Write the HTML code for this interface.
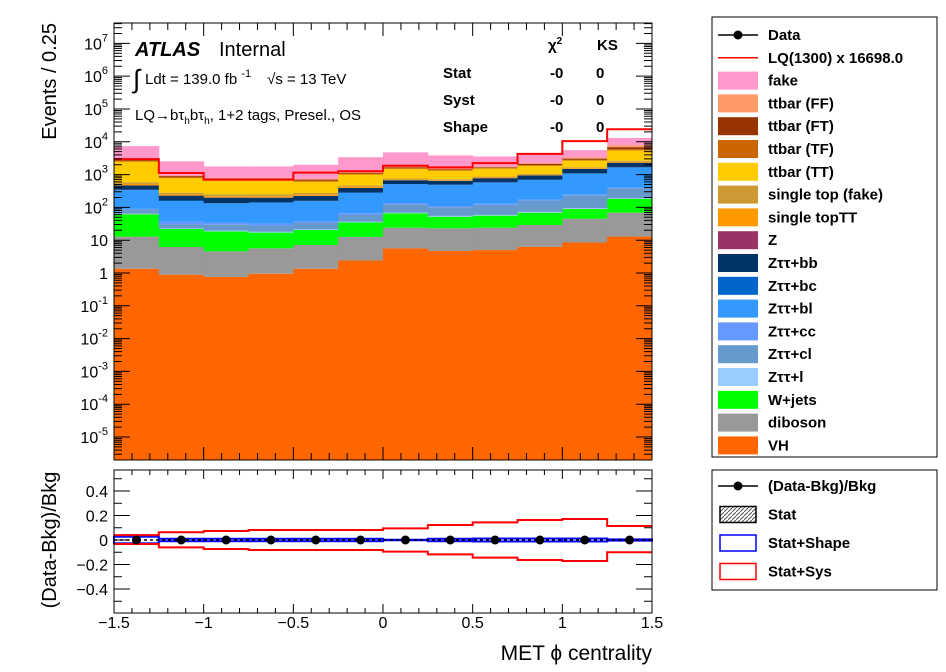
<!DOCTYPE html>
<html><head><meta charset="utf-8"><style>
body{margin:0;background:#fff;}
svg{display:block;font-family:"Liberation Sans",sans-serif;}
.lg{font-size:15px;font-weight:bold;}
</style></head><body>
<svg id="c" width="946" height="672"></svg>
<script>
const series = ["VH","diboson","W+jets","Zττ+l","Zττ+cl","Zττ+cc","Zττ+bl","Zττ+bc","Zττ+bb","Z","single topTT","single top (fake)","ttbar (TT)","ttbar (TF)","ttbar (FT)","ttbar (FF)","fake"];
const colors = ["#ff6600","#999999","#00ff00","#99ccff","#6699cc","#6699ff","#3399ff","#0066cc","#003366","#993366","#ff9900","#cc9933","#ffcc00","#cc6600","#993300","#ff9966","#ff99cc"];
const vVH = [1.35,0.89,0.76,0.95,1.35,2.4,5.6,4.7,5.0,6.3,8.5,12.9];
const vDib = [11.5,5.3,3.8,4.7,5.8,10.2,18.4,18.3,19,22.7,36.5,56];
const vW = [49,15.7,14,11.4,13.3,22,42,29,32,40,44,113];
const vZl = [2,1,1,1,1,2,3,3,3,4,5,7];
const vZcl = [22,8,10,9,12,22,55,45,60,90,140,190];
const vZcc = [4,6,5,5,5,8,12,10,10,12,15,20];
const vZbl = [245,120,95,105,115,210,370,375,440,510,820,1250];
const vZbc = [10,5,5,5,5,8,10,10,10,10,15,20];
const vZbb = [120,66,63,55,65,105,155,150,195,250,410,620];
const vZ = [2,1,1,1,1,2,3,3,3,4,5,7];
const vStTT = [50,20,20,20,20,30,40,30,40,50,80,150];
const vStF = [60,30,30,30,30,40,50,40,50,60,90,200];
const vTT = [1900,500,445,445,330,540,720,600,650,800,1000,2800];
const vTF = [200,60,40,40,50,60,80,60,60,100,150,500];
const vFT = [300,60,40,40,50,70,100,80,80,150,250,900];
const vFF = [200,40,30,30,40,60,100,80,90,150,300,1000];
const vFake = [4200,1600,970,970,1250,2200,3000,2300,1800,2200,2200,5200];
const vLQ = [2950,1120,700,700,1150,1260,1860,1660,2240,4260,10500,24000];
const ratioData = [0,0,0,0,0,0,0,0,0,0,0,0];
const sysUp = [0.04,0.063,0.073,0.082,0.082,0.082,0.095,0.122,0.144,0.163,0.171,0.114];
const sysDn = [-0.033,-0.06,-0.073,-0.082,-0.082,-0.082,-0.095,-0.117,-0.144,-0.163,-0.171,-0.1];
const shapeErr = [0.027,0.01,0.01,0.01,0.01,0.01,0.002,0.01,0.012,0.012,0.012,0.005];
const xTicks = [-1.5,-1,-0.5,0,0.5,1,1.5];
const xTickLabels = ["−1.5","−1","−0.5","0","0.5","1","1.5"];
const rTicks = [0.4,0.2,0,-0.2,-0.4];
const rTickLabels = ["0.4","0.2","0","−0.2","−0.4"];

const S=document.getElementById('c');const NS="http://www.w3.org/2000/svg";
function el(t,a,p){const e=document.createElementNS(NS,t);for(const k in a)e.setAttribute(k,a[k]);(p||S).appendChild(e);return e;}
function txt(x,y,s,a){const e=el('text',Object.assign({x:x,y:y},a||{}));e.innerHTML=s;return e;}
const X0=114,X1=652,Y0=23,Y1=460,R0=470,R1=613;
const xmin=-1.5,xmax=1.5,lmin=-5.7,lmax=7.62;
const xs=v=>X0+(v-xmin)/(xmax-xmin)*(X1-X0);
const ys=v=>Y1-(Math.log10(v)-lmin)/(lmax-lmin)*(Y1-Y0);
const rs=v=>540-v*122.5;
const nb=12,bw=(xmax-xmin)/nb;
const all=[vVH,vDib,vW,vZl,vZcl,vZcc,vZbl,vZbc,vZbb,vZ,vStTT,vStF,vTT,vTF,vFT,vFF,vFake];

const g=el('g',{});

for(let b=0;b<nb;b++){
  let cum=0;
  const xa=xs(xmin+b*bw),xb=xs(xmin+(b+1)*bw);
  for(let s=0;s<all.length;s++){
    const lo=cum;cum+=all[s][b];
    const yt=ys(cum),yb=lo>0?Math.min(Y1,ys(lo)):Y1;
    const r=el('rect',{x:xa,y:yt,width:xb-xa+0.5,height:Math.max(0,yb-yt),fill:colors[s]},g);
    
    
  }
}
let d='';
for(let b=0;b<nb;b++){const xa=xs(xmin+b*bw),xb=xs(xmin+(b+1)*bw),y=ys(vLQ[b]);d+=(b?'L':'M')+xa+','+y+'L'+xb+','+y;}
const lq=el('path',{d:d,fill:'none',stroke:'#ff0000','stroke-width':2});


const fr=el('rect',{x:X0,y:Y0,width:X1-X0,height:Y1-Y0,fill:'none',stroke:'#000'});

let tk='';
for(let e=-5;e<=7;e++){const y=ys(Math.pow(10,e));tk+=`M${X0},${y}h16M${X1},${y}h-16`;
  const l=txt(X0-6,y+6,'10<tspan dy="-8" font-size="11">'+e+'</tspan>',{'font-size':16,'text-anchor':'end'});
  if(e===0){l.innerHTML='1';}else if(e===1){l.innerHTML='10';}
  }
for(let e=-6;e<=7;e++)for(let m=2;m<10;m++){const v=m*Math.pow(10,e);const y=ys(v);if(y<Y0||y>Y1)continue;tk+=`M${X0},${y}h8M${X1},${y}h-8`;}
for(let v=-1.5;v<=1.5001;v+=0.1){const x=xs(v);const big=Math.abs(v*2-Math.round(v*2))<1e-6;const L=big?13:7;
  tk+=`M${x},${Y1}v-${L}M${x},${Y0}v${L}M${x},${R1}v-${big?9:5}M${x},${R0}v${big?9:5}`;}
for(let v=-0.6;v<=0.6001;v+=0.1){const y=rs(v);if(y<R0||y>R1)continue;const big=Math.abs(v*5-Math.round(v*5))<1e-6;tk+=`M${X0},${y}h${big?16:8}M${X1},${y}h-${big?16:8}`;}
const tp=el('path',{d:tk,stroke:'#000',fill:'none','stroke-width':1});


const rg=el('g',{});
let dU='',dD='';
for(let b=0;b<nb;b++){const xa=xs(xmin+b*bw),xb=xs(xmin+(b+1)*bw);
  dU+=(b?'L':'M')+xa+','+rs(sysUp[b])+'L'+xb+','+rs(sysUp[b]);
  dD+=(b?'L':'M')+xa+','+rs(sysDn[b])+'L'+xb+','+rs(sysDn[b]);
  const r=el('rect',{x:xa,y:rs(shapeErr[b]),width:xb-xa,height:rs(-shapeErr[b])-rs(shapeErr[b]),fill:'none',stroke:'#0000ff','stroke-width':2},rg);
  }
const su=el('path',{d:dU,fill:'none',stroke:'#ff0000','stroke-width':2},rg);
const sd=el('path',{d:dD,fill:'none',stroke:'#ff0000','stroke-width':2},rg);
const zl=el('line',{x1:X0,x2:X1,y1:rs(0),y2:rs(0),stroke:'#000','stroke-dasharray':'3,3','stroke-width':1.5},rg);
for(let b=0;b<nb;b++){const c=el('circle',{cx:xs(xmin+(b+0.5)*bw),cy:rs(ratioData[b]),r:4.5,fill:'#000'},rg);
  }
const rf=el('rect',{x:X0,y:R0,width:X1-X0,height:R1-R0,fill:'none',stroke:'#000'});

xTicks.forEach((v,i)=>{const t=txt(xs(v),628,xTickLabels[i],{'font-size':16,'text-anchor':'middle'});});
rTicks.forEach((v,i)=>{const t=txt(X0-6,rs(v)+6,rTickLabels[i],{'font-size':16,'text-anchor':'end'});});

let t=txt(652,660,'MET ϕ centrality',{'font-size':21,'text-anchor':'end'});
t=txt(0,0,'Events / 0.25',{'font-size':20,'text-anchor':'end',transform:'translate(56,23) rotate(-90)'});
t=txt(0,0,'(Data-Bkg)/Bkg',{'font-size':20,'text-anchor':'middle',transform:'translate(56,540) rotate(-90)'});
t=txt(135,56,'ATLAS',{'font-size':20,'font-weight':'bold','font-style':'italic'});
t=txt(219,56,'Internal',{'font-size':20});
t=txt(133,88,'∫',{'font-size':26});
t=txt(145,84,'Ldt = 139.0 fb <tspan dy="-7" font-size="11">-1</tspan><tspan dy="7" dx="16">√s = 13 TeV</tspan>',{'font-size':15});
t=txt(135,120,'LQ→bτ<tspan dy="4" font-size="10">h</tspan><tspan dy="-4">bτ</tspan><tspan dy="4" font-size="10">h</tspan><tspan dy="-4">, 1+2 tags, Presel., OS</tspan>',{'font-size':15});
const st=[['χ<tspan dy="-6" font-size="10">2</tspan>',548,50],['KS',597,50],['Stat',443,78],['-0',550,78],['0',596,78],['Syst',443,105],['-0',550,105],['0',596,105],['Shape',443,132],['-0',550,132],['0',596,132]];
st.forEach(s=>{const e=txt(s[1],s[2],s[0],{'font-size':15,'font-weight':'bold'});});

const lb=el('rect',{x:712,y:17,width:225,height:440,fill:'#fff',stroke:'#000'});
const legNames=["Data","LQ(1300) x 16698.0","fake","ttbar (FF)","ttbar (FT)","ttbar (TF)","ttbar (TT)","single top (fake)","single topTT","Z","Zττ+bb","Zττ+bc","Zττ+bl","Zττ+cc","Zττ+cl","Zττ+l","W+jets","diboson","VH"];
legNames.forEach((n,i)=>{const y=35+i*22.8;const gg=el('g',{});
  if(i===0){el('line',{x1:718,x2:758,y1:y,y2:y,stroke:'#000','stroke-width':1.5},gg);el('circle',{cx:738,cy:y,r:4.5},gg);}
  else if(i===1){el('line',{x1:718,x2:758,y1:y,y2:y,stroke:'#ff0000','stroke-width':1.5},gg);}
  else{const si=series.indexOf(n);el('rect',{x:718,y:y-9,width:40,height:18,fill:colors[si]},gg);}
  txt(768,y+5,n,{class:'lg'},gg);});
const lb2=el('rect',{x:712,y:470,width:225,height:120,fill:'#fff',stroke:'#000'});
const defs=el('defs',{});const pat=el('pattern',{id:'h',width:4,height:4,patternUnits:'userSpaceOnUse'},defs);el('path',{d:'M0,4L4,0',stroke:'#555'},pat);
const rl=[["(Data-Bkg)/Bkg",0],["Stat",1],["Stat+Shape",2],["Stat+Sys",3]];
rl.forEach((r,i)=>{const y=486+i*28.5;const gg=el('g',{});
  if(i===0){el('line',{x1:718,x2:758,y1:y,y2:y,stroke:'#000','stroke-width':1.5},gg);el('circle',{cx:738,cy:y,r:4.5},gg);}
  else el('rect',{x:720,y:y-8,width:36,height:16,fill:i===1?'url(#h)':'none',stroke:['','#000','#0000ff','#ff0000'][i],'stroke-width':1.5},gg);
  txt(768,y+5,r[0],{class:'lg'},gg);});
</script>
</body></html>
